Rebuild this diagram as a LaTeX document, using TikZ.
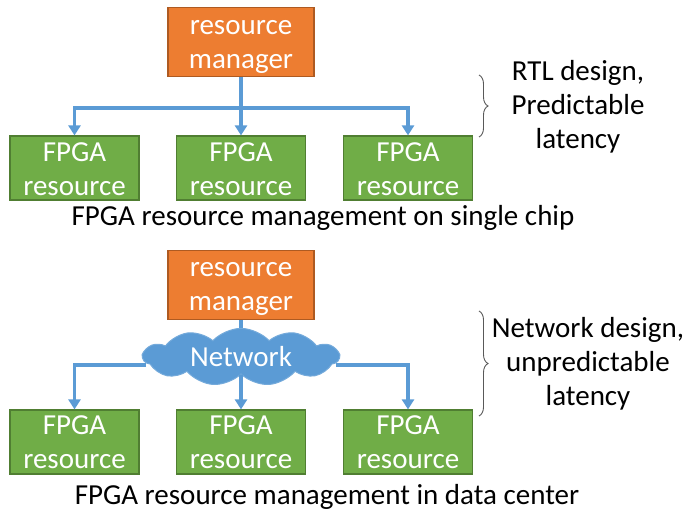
\documentclass[tikz,border=0pt]{standalone}
\usepackage{fontspec}
\setmainfont{Carlito}
\usetikzlibrary{shapes.symbols,decorations.pathreplacing,arrows.meta}
\definecolor{orfill}{HTML}{ED7D31}
\definecolor{ordraw}{HTML}{AE5A21}
\definecolor{grfill}{HTML}{70AD47}
\definecolor{grdraw}{HTML}{507E32}
\definecolor{blu}{HTML}{5B9BD5}
\definecolor{bracecol}{HTML}{595959}
\tikzset{
  boxtxt/.style={text=white, align=center, inner sep=0pt, font=\fontsize{29}{34}\selectfont},
  mgr/.style={draw=ordraw, fill=orfill, line width=1.2pt, minimum width=146pt, minimum height=69pt, inner sep=0pt},
  fpga/.style={draw=grdraw, fill=grfill, line width=1.2pt, minimum width=129pt, minimum height=64pt, inner sep=0pt},
  conn/.style={draw=blu, line width=3.6pt},
  arr/.style={conn, -{Triangle[width=12pt,length=10pt]}},
  captxt/.style={font=\fontsize{29}{34}\selectfont, text=black, inner sep=0pt},
  sidetxt/.style={font=\fontsize{29}{34}\selectfont, text=black, inner sep=0pt, align=center},
  bracestyle/.style={draw=bracecol, line width=0.9pt, decorate, decoration={brace, amplitude=9pt}}
}
\begin{document}
\begin{tikzpicture}[x=1pt,y=-1pt]
\useasboundingbox (0,0) rectangle (692,515);
% top diagram
\node[mgr, label={[boxtxt, yshift=-5pt]center:resource\\manager}] (rm1) at (241,42) {};
\node[fpga, label={[boxtxt, yshift=-1.5pt]center:FPGA\\resource}] (f1) at (74.5,168) {};
\node[fpga, label={[boxtxt, yshift=-1.5pt]center:FPGA\\resource}] (f2) at (241,168) {};
\node[fpga, label={[boxtxt, yshift=-1.5pt]center:FPGA\\resource}] (f3) at (408,168) {};
\coordinate (j1) at (241,108);
\draw[conn] (rm1.south) -- (j1);
\draw[arr] (j1) -| (f1.north);
\draw[arr] (j1) -- (f2.north);
\draw[arr] (j1) -| (f3.north);
\node[captxt] (c1) at (323,218) {FPGA resource management on single chip};
% bottom diagram
\node[mgr, label={[boxtxt, yshift=-4pt]center:resource\\manager}] (rm2) at (241,285) {};
\node[cloud, cloud puffs=11, cloud puff arc=95, aspect=3.5, fill=blu, draw=blu!85!white, line width=1pt, minimum width=196pt, minimum height=56pt, inner sep=0pt, text=white, font=\fontsize{29}{34}\selectfont] (net) at (241,357) {Network};
\node[fpga, label={[boxtxt]center:FPGA\\resource}] (g1) at (74.5,442) {};
\node[fpga, label={[boxtxt]center:FPGA\\resource}] (g2) at (241,442) {};
\node[fpga, label={[boxtxt]center:FPGA\\resource}] (g3) at (408,442) {};
\draw[conn] (rm2.south) -- (rm2.south |- net.north);
\coordinate (l2) at (146,365);
\coordinate (r2) at (336,365);
\draw[arr] (l2) -| (g1.north);
\draw[arr] (r2) -| (g3.north);
\draw[arr] (net.south) -- (g2.north);
\node[captxt] (c2) at (327,497) {FPGA resource management in data center};
% side notes
\draw[bracestyle] (479,75) -- (479,137);
\node[sidetxt] (s1) at (578,107) {RTL design,\\Predictable\\latency};
\draw[bracestyle] (479,311) -- (479,416);
\node[sidetxt] (s2) at (588,364) {Network design,\\unpredictable\\latency};
\end{tikzpicture}
\end{document}
